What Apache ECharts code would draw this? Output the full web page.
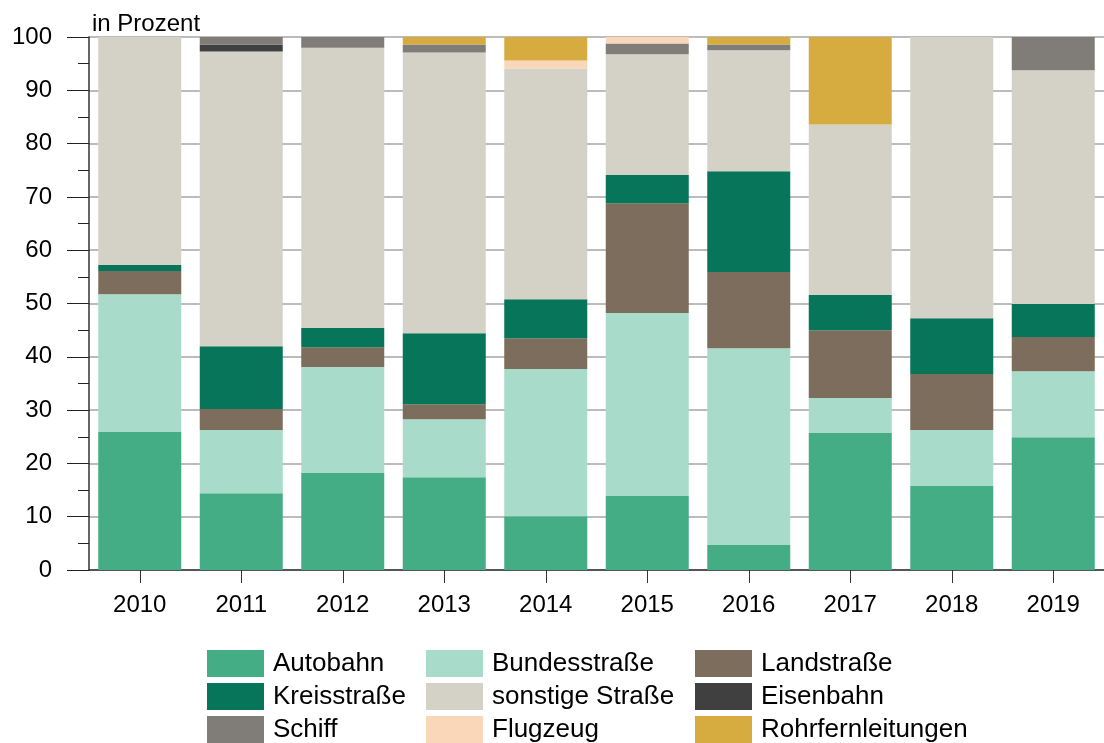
<!DOCTYPE html>
<html>
<head>
<meta charset="utf-8">
<script src="https://cdn.jsdelivr.net/npm/echarts@6/dist/echarts.min.js"></script>
<style>
  html, body { margin: 0; padding: 0; background: #fff; }
  #echarts { width: 1104px; height: 743px; }
</style>
</head>
<body>
<div id="echarts"></div>
<script>
// Daten (Anteile in Prozent)
let years = ['2010', '2011', '2012', '2013', '2014', '2015', '2016', '2017', '2018', '2019'];
let autobahn = [25.9, 14.4, 18.2, 17.4, 10.1, 13.9, 4.7, 25.7, 15.75, 24.9];
let bundesstrasse = [25.85, 11.85, 19.9, 10.9, 27.6, 34.3, 36.9, 6.55, 10.5, 12.4];
let landstrasse = [4.35, 3.95, 3.7, 2.8, 5.8, 20.6, 14.3, 12.75, 10.5, 6.4];
let kreisstrasse = [1.1, 11.8, 3.6, 13.3, 7.3, 5.3, 18.9, 6.6, 10.5, 6.2];
let sonstigeStrasse = [42.8, 55.3, 52.6, 52.7, 43.3, 22.65, 22.7, 32.0, 52.75, 43.85];
let eisenbahn = [0, 1.3, 0, 0, 0, 0, 0, 0, 0, 0];
let schiff = [0, 1.4, 2.0, 1.5, 0, 2.05, 1.1, 0, 0, 6.25];
let flugzeug = [0, 0, 0, 0, 1.5, 1.2, 0, 0, 0, 0];
let rohrfernleitungen = [0, 0, 0, 1.4, 4.4, 0, 1.4, 16.4, 0, 0];

let myChart = echarts.init(document.getElementById('echarts'));
let font = 'Liberation Sans, Arial, sans-serif';

function bar (name, data, color) {
    return {
        name: name,
        type: 'bar',
        stack: 'total',
        barWidth: 83,
        itemStyle: { color: color },
        data: data
    };
}

let legendBase = {
    orient: 'vertical',
    top: 650,
    padding: 0,
    height: 100,
    itemWidth: 57,
    itemHeight: 27,
    itemGap: 6,
    icon: 'rect',
    selectedMode: false,
    textStyle: { fontFamily: font, fontSize: 26, color: '#000', padding: [0, 0, 0, 4] }
};

let option = {
    animation: false,
    title: {
        text: 'in Prozent',
        left: 87,
        top: 7,
        textStyle: { fontFamily: font, fontSize: 24, fontWeight: 'normal', color: '#000' }
    },
    grid: { left: 89, top: 37, width: 1024, height: 533 },
    legend: [
        Object.assign({}, legendBase, { left: 207, data: ['Autobahn', 'Kreisstraße', 'Schiff'] }),
        Object.assign({}, legendBase, { left: 426, data: ['Bundesstraße', 'sonstige Straße', 'Flugzeug'] }),
        Object.assign({}, legendBase, { left: 695, data: ['Landstraße', 'Eisenbahn', 'Rohrfernleitungen'] })
    ],
    xAxis: {
        type: 'category',
        data: years,
        axisLine: { lineStyle: { color: '#333', width: 1.5 } },
        axisTick: { show: true, alignWithLabel: true, length: 13, lineStyle: { color: '#333' } },
        axisLabel: { fontFamily: font, fontSize: 24, color: '#000', margin: 23 }
    },
    yAxis: {
        type: 'value',
        min: 0,
        max: 100,
        interval: 10,
        axisLine: { show: true, lineStyle: { color: '#333', width: 1.5 } },
        axisTick: { show: true, length: 22, lineStyle: { color: '#222' } },
        minorTick: { show: true, splitNumber: 2, length: 11, lineStyle: { color: '#222' } },
        splitLine: { show: true, lineStyle: { color: '#a6a6a6', width: 1.5 } },
        axisLabel: { fontFamily: font, fontSize: 24, color: '#000', margin: 37 }
    },
    series: [
        bar('Autobahn', autobahn, '#44ad85'),
        bar('Bundesstraße', bundesstrasse, '#a8dbc9'),
        bar('Landstraße', landstrasse, '#7d6d5c'),
        bar('Kreisstraße', kreisstrasse, '#06755a'),
        bar('sonstige Straße', sonstigeStrasse, '#d4d2c6'),
        bar('Eisenbahn', eisenbahn, '#404040'),
        bar('Schiff', schiff, '#807c77'),
        bar('Flugzeug', flugzeug, '#fad7b9'),
        bar('Rohrfernleitungen', rohrfernleitungen, '#d6ac41')
    ]
};
myChart.setOption(option);
</script>
</body>
</html>
